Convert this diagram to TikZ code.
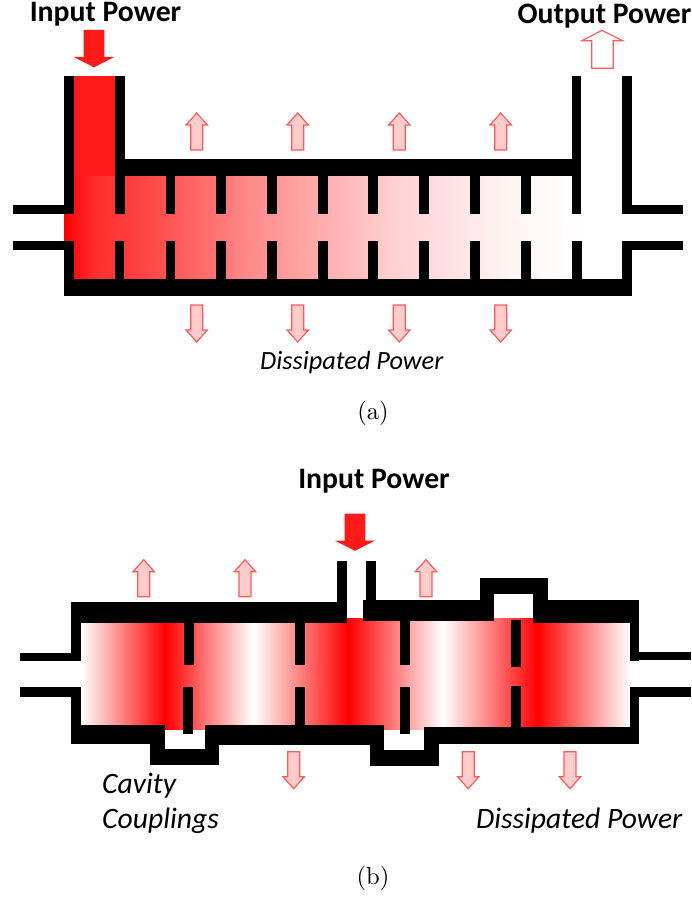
\documentclass[tikz,border=0pt]{standalone}
\usepackage{fontspec}
\setsansfont{Carlito}
\usepackage{xcolor}
\definecolor{powerred}{HTML}{FF1A1A}
\definecolor{lossline}{HTML}{FF5A5A}
\definecolor{lossfill}{HTML}{FFCCCC}
\pgfdeclarehorizontalshading{travelfade}{100bp}{color(0bp)=(red); color(25bp)=(red); color(28bp)=(red!82!white); color(32.8bp)=(red!73!white); color(37.7bp)=(red!60!white); color(42.5bp)=(red!47!white); color(47.3bp)=(red!37!white); color(52.2bp)=(red!28!white); color(57bp)=(red!18!white); color(61.8bp)=(red!12!white); color(66.7bp)=(red!6!white); color(71.5bp)=(red!2!white); color(75bp)=(white); color(100bp)=(white)}
\pgfdeclarehorizontalshading{standfade}{100bp}{color(0bp)=(white); color(25bp)=(white); color(32.65bp)=(red); color(40.66bp)=(white); color(49.32bp)=(red); color(57.97bp)=(white); color(66.53bp)=(red); color(75bp)=(white); color(100bp)=(white)}
\tikzset{
  wall/.style={fill=black},
  label/.style={font=\sffamily\bfseries\fontsize{29.7}{30}\selectfont, inner sep=0pt, anchor=base, text=black},
  note/.style={font=\sffamily\itshape\fontsize{29.6}{30}\selectfont, inner sep=0pt, anchor=base west, text=black},
  caption/.style={font=\fontsize{10}{12}\selectfont, inner sep=0pt, scale=2.45, transform shape},
  lossarrow/.pic={\draw[draw=lossline, fill=lossfill, line width=1.2pt, line join=miter] (-6,0) -- (-6,-25) -- (-10.7,-25) -- (0,-37) -- (10.7,-25) -- (6,-25) -- (6,0) -- cycle;},
  inarrow/.pic={\fill[powerred] (-10.3,0) -- (-10.3,-27) -- (-20.2,-27) -- (0,-37.3) -- (20.2,-27) -- (10.3,-27) -- (10.3,0) -- cycle;}
}
\begin{document}
\begin{tikzpicture}[x=1pt,y=-1pt]
    \useasboundingbox (0,0) rectangle (692,899);
    % (a) travelling wave
    \shade[shading=travelfade] (64,176) rectangle (581,279);
    \fill[powerred] (73.3,76) rectangle (114.5,176);
    \fill[wall] (64,76) rectangle (73.5,214);
    \fill[wall] (114.5,76) rectangle (124.5,214);
    \fill[wall] (124,159) rectangle (581,176);
    \fill[wall] (571.7,76) rectangle (581.3,214);
    \fill[wall] (622.3,76) rectangle (632.3,214);
    \fill[wall] (64,279) rectangle (632.3,296);
    \fill[wall] (64,240.5) rectangle (73.5,279);
    \fill[wall] (622.3,240.5) rectangle (632.3,279);
    \fill[wall] (13,205) rectangle (64,214);
    \fill[wall] (13,240.5) rectangle (64,249.5);
    \fill[wall] (632,205) rectangle (682.7,214);
    \fill[wall] (632,240.5) rectangle (682.7,249.5);
    \foreach \x in {165.5,216,267,318,368.3,419,469.7,520.7}{
      \fill[wall] (\x,176) rectangle (\x+9.8,214);
    }
    \foreach \x in {114.5,165.5,216,267,318,368.3,419,469.7,520.7,571.7}{
      \fill[wall] (\x,240.5) rectangle (\x+9.8,279);
    }
    \foreach \x in {196.7,297.7,399.3,500.7}{
      \pic at (\x,150) {lossarrow};
      \pic[yscale=-1] at (\x,305) {lossarrow};
    }
    \pic[yscale=-1] at (94,30) {inarrow};
    \draw[draw=lossline, fill=white, line width=1.2pt] (591.7,68.3) -- (591.7,40.7) -- (582,40.7) -- (602,30.3) -- (622.7,40.7) -- (613.3,40.7) -- (613.3,68.3) -- cycle;
    \node[label] (inputa) at (105.5,21.5) {Input Power};
    \node[label] (outputa) at (604.5,23.5) {Output Power};
    \node[note, font=\sffamily\itshape\fontsize{26.3}{30}\selectfont] (lossa) at (260,369) {Dissipated Power};
    \node[caption] (capa) at (373,413.3) {(a)};
    % (b) standing wave
    \shade[shading=standfade] (81,618) rectangle (630,729);
    \fill[wall] (71.3,601.7) rectangle (346.7,623.3);
    \fill[wall] (336.7,560.7) rectangle (346.7,623.3);
    \fill[wall] (365.7,560.7) rectangle (375.7,601);
    \fill[wall] (363.3,600.3) rectangle (494.3,621);
    \fill[wall] (480,578.3) rectangle (547.7,594.3);
    \fill[wall] (480,578.3) rectangle (494.3,621);
    \fill[wall] (533.3,578.3) rectangle (547.7,622.7);
    \fill[wall] (533.3,600.3) rectangle (639.3,622.7);
    \fill[wall] (71.3,601.7) rectangle (81,661.3);
    \fill[wall] (629.7,600.3) rectangle (639.3,661);
    \fill[wall] (71.3,687) rectangle (81,744);
    \fill[wall] (629.7,687) rectangle (639.3,744);
    \fill[wall] (20.3,652.7) rectangle (71.3,661.3);
    \fill[wall] (20.3,687) rectangle (71.3,696.7);
    \fill[wall] (639,651.7) rectangle (690.7,660.3);
    \fill[wall] (639,687) rectangle (690.7,696.7);
    % bottom wall with its two coupling cells
    \fill[wall] (71.3,725.3) rectangle (165.3,744);
    \fill[wall] (150.3,725.3) rectangle (165.3,765);
    \fill[wall] (150.3,749) rectangle (219.3,765);
    \fill[wall] (204.7,725.3) rectangle (219.3,765);
    \fill[wall] (204.7,725.3) rectangle (384.3,745);
    \fill[wall] (369.7,725.3) rectangle (384.3,766.3);
    \fill[wall] (369.7,750.3) rectangle (438.7,766.3);
    \fill[wall] (424,726.7) rectangle (438.7,766.3);
    \fill[wall] (424,726.7) rectangle (639.3,744);
    % cavity irises
    \fill[wall] (183.7,623) rectangle (193.7,665);
    \fill[wall] (182.7,687) rectangle (192.7,734);
    \fill[wall] (295.3,623) rectangle (305,665);
    \fill[wall] (295.3,687) rectangle (305,726);
    \fill[wall] (400.3,621) rectangle (410.3,665);
    \fill[wall] (400.3,687) rectangle (410.3,734);
    \fill[wall] (510.7,620) rectangle (520.7,667);
    \fill[wall] (510.7,685.7) rectangle (520.7,727);
    \foreach \x in {143.7,245,426}{
      \pic at (\x,596.7) {lossarrow};
    }
    \foreach \x in {293.7,468.3,570}{
      \pic[yscale=-1] at (\x,751.7) {lossarrow};
    }
    \pic[yscale=-1] at (355,513.5) {inarrow};
    \node[label] (inputb) at (374,488) {Input Power};
    \node[note] (cavity) at (102,793.3) {Cavity};
    \node[note] (couplings) at (102,828.3) {Couplings};
    \node[note] (lossb) at (476,828.3) {Dissipated Power};
    \node[caption] (capb) at (373,878) {(b)};
\end{tikzpicture}
\end{document}
